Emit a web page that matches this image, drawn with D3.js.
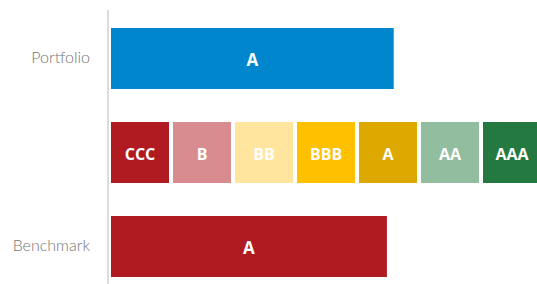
<!DOCTYPE html>
<html><head><meta charset="utf-8">
<script src="https://cdn.jsdelivr.net/npm/d3@7"></script>
<style>body{margin:0;background:#fff;}svg{display:block;}</style>
</head><body>
<script>
const ratings = ["CCC","B","BB","BBB","A","AA","AAA"];
const ratingColors = ["#B01A21","#D98C8F","#FFE59E","#FFC000","#DDA800","#92BD9E","#23793F"];
const seriesNames = ["Portfolio","Benchmark"];
const seriesScores = [4.56, 4.45];
const seriesRatings = ["A","A"];
const seriesColors = ["#0086CD","#B01A21"];

const W = 537, H = 284;
const svg = d3.select("body").append("svg").attr("width",W).attr("height",H);

const rows = ["Portfolio","scale","Benchmark"];
const y = d3.scaleBand().domain(rows).range([11.5, 293.5]).paddingInner(33/94).paddingOuter(16.5/94);
const x = d3.scaleLinear().domain([0, ratings.length]).range([111, 545]);

// axis line
svg.append("line").attr("x1",108).attr("x2",108).attr("y1",10).attr("y2",H)
  .attr("stroke","#dcdcdc").attr("stroke-width",2);

// row labels
svg.selectAll("text.rowlab").data(seriesNames).join("text")
  .attr("class","rowlab")
  .attr("x",90).attr("y",d=>y(d)+y.bandwidth()/2+4.5)
  .attr("text-anchor","end")
  .attr("font-family","Lato, 'Open Sans', sans-serif").attr("font-weight",300)
  .attr("font-size",16).attr("fill","#757575").text(d=>d);

// series bars
const data = seriesNames.map((n,i)=>({name:n, score:seriesScores[i], rating:seriesRatings[i], color:seriesColors[i]}));
svg.selectAll("rect.bar").data(data).join("rect").attr("class","bar")
  .attr("x",x(0)).attr("y",d=>y(d.name))
  .attr("width",d=>x(d.score)-x(0)).attr("height",y.bandwidth())
  .attr("fill",d=>d.color);
svg.selectAll("text.barlab").data(data).join("text").attr("class","barlab")
  .attr("x",d=>(x(0)+x(d.score))/2).attr("y",d=>y(d.name)+y.bandwidth()/2+1)
  .attr("text-anchor","middle").attr("dominant-baseline","central")
  .attr("font-family","'Open Sans', sans-serif").attr("font-weight",700)
  .attr("font-size",17).attr("fill","#fff").text(d=>d.rating);

// rating scale boxes
const gap = 4;
svg.selectAll("rect.box").data(ratings).join("rect").attr("class","box")
  .attr("x",(d,i)=>x(i)).attr("y",y("scale"))
  .attr("width",(d,i)=>x(i+1)-x(i)-gap).attr("height",y.bandwidth())
  .attr("fill",(d,i)=>ratingColors[i]);
svg.selectAll("text.boxlab").data(ratings).join("text").attr("class","boxlab")
  .attr("x",(d,i)=>(x(i)+x(i+1)-gap)/2).attr("y",y("scale")+y.bandwidth()/2+1)
  .attr("text-anchor","middle").attr("dominant-baseline","central")
  .attr("font-family","'Open Sans', sans-serif").attr("font-weight",700)
  .attr("font-size",16).attr("fill","#fff").text(d=>d);
</script>
</body></html>
